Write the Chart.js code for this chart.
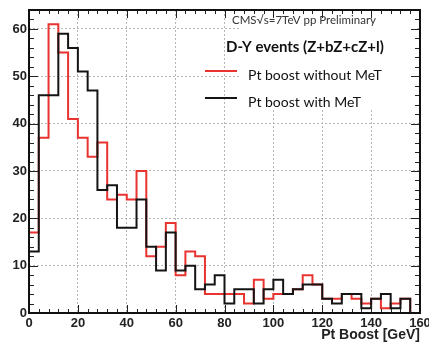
<!DOCTYPE html>
<html><head><meta charset="utf-8">
<script src="https://cdn.jsdelivr.net/npm/chart.js@4"></script>
<style>html,body{margin:0;padding:0;background:#fff;overflow:hidden}#wrap{width:429px;height:345px;position:relative}</style>
</head><body><div id="wrap"><canvas id="c" width="429" height="345"></canvas></div>
<script>
// ---- data (histogram, 4 GeV bins) ----
const binStart = [0,4,8,12,16,20,24,28,32,36,40,44,48,52,56,60,64,68,72,76,80,84,88,92,96,100,104,108,112,116,120,124,128,132,136,140,144,148,152,156];
const binEnd = 160;
const withoutMeT = [17,37,61,55,41,37,33,36,24,25,24,30,12,14,19,8,13,12,4,4,4,4,2,7,3,4,4,5,8,6,3,3,4,3,2,3,1,2,3,0];
const withMeT    = [13,46,46,59,56,51,47,26,27,18,18,24,14,9,17,9,10,5,6,8,2,5,5,2,5,7,4,5,6,6,3,2,4,4,1,3,4,1,3,0];
const xTicks = [0,20,40,60,80,100,120,140,160];
const yTicks = [0,10,20,30,40,50,60];
const seriesLabels = ['Pt boost without MeT','Pt boost with MeT'];
const seriesColors = ['#e8332f','#141414'];
const headerText = 'CMS\u221As=7TeV pp Preliminary';
const legendTitle = 'D-Y events (Z+bZ+cZ+l)';
const xTitle = 'Pt Boost [GeV]';

// histogram outline: point at each bin's low edge, plus closing point at the upper edge
function stepPoints(vals){
  const pts = [{x:binStart[0],y:0}];
  binStart.forEach((x,i)=>{ pts.push({x:(i+1<binStart.length?binStart[i+1]:binEnd),y:vals[i]}); });
  return pts;
}

const rootDeco = {
  id:'rootDeco',
  beforeDatasetsDraw(chart){
    const ctx = chart.ctx;
    ctx.save();
    ctx.fillStyle = '#fff';
    ctx.fillRect(240, 12, 176, 96);
    ctx.restore();
  },
  afterDatasetsDraw(chart){
    const ctx = chart.ctx, a = chart.chartArea;
    const xs = chart.scales.x, ys = chart.scales.y;
    ctx.save();
    ctx.strokeStyle = '#222'; ctx.lineWidth = 1;
    ctx.beginPath();
    for (let v = 0; v <= 160; v += 4) {
      const px = Math.round(xs.getPixelForValue(v)) + 0.5;
      const L = (v % 20 === 0) ? 8 : 4;
      ctx.moveTo(px, a.bottom); ctx.lineTo(px, a.bottom - L);
      ctx.moveTo(px, a.top); ctx.lineTo(px, a.top + L);
    }
    for (let v = 0; v <= 64; v += 2) {
      const py = Math.round(ys.getPixelForValue(v)) + 0.5;
      const L = (v % 10 === 0) ? 9 : 5;
      ctx.moveTo(a.left, py); ctx.lineTo(a.left + L, py);
      ctx.moveTo(a.right, py); ctx.lineTo(a.right - L, py);
    }
    ctx.stroke();
    ctx.strokeStyle = '#111'; ctx.lineWidth = 2;
    ctx.strokeRect(a.left, a.top, a.right - a.left, a.bottom - a.top);
    ctx.fillStyle = '#333';
    ctx.textBaseline = 'middle';
    ctx.font = '11.5px Lato';
    ctx.fillText(headerText, 232, 20);
    ctx.fillStyle = '#111';
    ctx.font = 'bold 15px Lato';
    ctx.fillText(legendTitle, 226, 47);
    ctx.font = '14px Lato';
    const rows = [75, 102];
    chart.data.datasets.forEach((d) => {
      const y = rows[d.legendRow];
      ctx.strokeStyle = d.borderColor; ctx.lineWidth = 2;
      ctx.beginPath(); ctx.moveTo(205, y - 4); ctx.lineTo(237, y - 4); ctx.stroke();
      ctx.fillStyle = '#111';
      ctx.fillText(d.label, 248, y);
    });
    ctx.restore();
  }
};

const tickFont = {family:"'Liberation Sans', Arial, sans-serif", weight:'bold', size:13};

new Chart(document.getElementById('c'), {
  type:'line',
  data:{
    datasets:[
      {label:seriesLabels[1], data:stepPoints(withMeT), borderColor:seriesColors[1], legendRow:1},
      {label:seriesLabels[0], data:stepPoints(withoutMeT), borderColor:seriesColors[0], legendRow:0}
    ]
  },
  options:{
    responsive:false, animation:false,
    layout:{padding:{left:0,right:9,top:10,bottom:0}},
    elements:{line:{stepped:'after',borderWidth:2,tension:0,fill:false},point:{radius:0}},
    plugins:{legend:{display:false},tooltip:{enabled:false}},
    scales:{
      x:{type:'linear',min:0,max:160,
        afterBuildTicks:s=>{s.ticks=xTicks.map(v=>({value:v}));},
        afterFit:s=>{s.height=32;s.paddingLeft=0;s.paddingRight=0;},
        grid:{color:'#b5b5b5',drawTicks:false,lineWidth:1},
        border:{display:false,dash:[2,2]},
        ticks:{font:tickFont,color:'#222',padding:3,maxRotation:0,autoSkip:false},
        title:{display:true,text:xTitle,align:'end',color:'#222',font:{family:"'Liberation Sans', Arial, sans-serif",weight:'bold',size:14},padding:{top:0,bottom:1}}
      },
      y:{type:'linear',min:0,max:64,
        afterBuildTicks:s=>{s.ticks=yTicks.map(v=>({value:v}));},
        afterFit:s=>{s.width=29;s.paddingTop=0;s.paddingBottom=0;},
        grid:{color:'#b5b5b5',drawTicks:false,lineWidth:1},
        border:{display:false,dash:[2,2]},
        ticks:{font:tickFont,color:'#222',padding:2,autoSkip:false}
      }
    }
  },
  plugins:[rootDeco]
});
</script>
</body></html>
